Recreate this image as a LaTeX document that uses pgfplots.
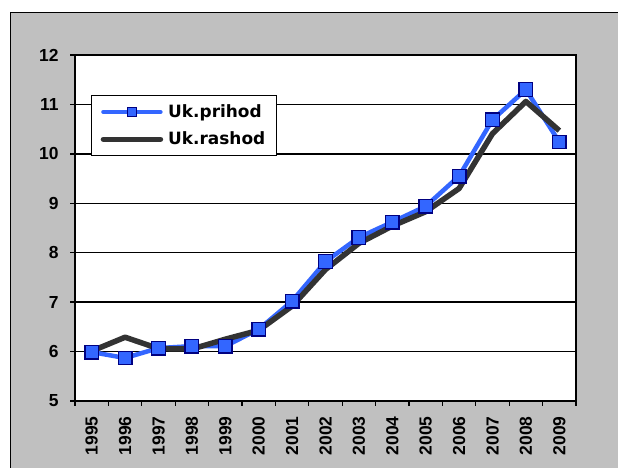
\documentclass[border=0pt]{standalone}
\usepackage{fontspec}
\setmainfont{Liberation Sans}
\newfontfamily\legfont{DejaVu Sans}
\usepackage{pgfplots}
\pgfplotsset{compat=1.18}
\definecolor{panelgray}{RGB}{192,192,192}
\definecolor{pblue}{RGB}{51,102,255}
\definecolor{mnavy}{RGB}{0,0,128}
\definecolor{rdark}{RGB}{51,51,51}
\begin{document}
\begin{tikzpicture}[x=1bp,y=1bp]
\useasboundingbox (0,0) rectangle (618,468);
\fill[white] (0,0) rectangle (618,468);
\begin{scope}
\clip (0,0) rectangle (618,468);
\filldraw[fill=panelgray, draw=black, line width=1.2bp] (10.5,-5) rectangle (625,455.5);
\end{scope}
\begin{axis}[
  at={(75bp,67bp)}, anchor=south west,
  scale only axis, width=501bp, height=346bp,
  xmin=-0.5, xmax=14.5, ymin=5, ymax=12,
  /pgf/number format/assume math mode=true,
  xtick={-0.5,0.5,...,14.5}, xticklabels={},
  extra x ticks={0,1,...,14},
  extra x tick labels={1995,1996,1997,1998,1999,2000,2001,2002,2003,2004,2005,2006,2007,2008,2009},
  extra x tick style={major tick length=0pt, grid=none},
  ytick={5,6,...,12},
  ymajorgrids, grid style={black, line width=1.3bp},
  tick align=outside, tick pos=left,
  major tick length=5bp,
  tick style={black, line width=1.3bp},
  axis background/.style={fill=white},
  axis line style={black, line width=1.6bp},
  xticklabel shift=12bp, yticklabel shift=8bp,
  x tick label style={rotate=90, anchor=east, font=\bfseries\fontsize{17.5}{17.5}\selectfont},
  y tick label style={font=\bfseries\fontsize{17.5}{17.5}\selectfont},
  legend cell align=left,
  legend style={at={(0.032,0.884)}, anchor=north west, draw=black, line width=1.3bp,
    fill=white, font=\legfont\bfseries\fontsize{17}{17}\selectfont,
    inner xsep=9bp, inner ysep=7bp, row sep=9bp,
    /tikz/every odd column/.append style={column sep=3bp}},
]
\addplot[pblue, line width=4.5bp, line join=round, forget plot] coordinates {
(0,5.99) (1,5.87) (2,6.07) (3,6.11) (4,6.11) (5,6.45) (6,7.02) (7,7.82) (8,8.31) (9,8.62) (10,8.94) (11,9.55) (12,10.69) (13,11.30) (14,10.24)};
\addplot[rdark, line width=5.5bp, line join=round, forget plot] coordinates {
(0,6.01) (1,6.29) (2,6.06) (3,6.05) (4,6.25) (5,6.43) (6,6.92) (7,7.66) (8,8.19) (9,8.54) (10,8.83) (11,9.30) (12,10.41) (13,11.06) (14,10.47)};
\addplot[only marks, mark=square*, mark size=6.8bp, mark options={fill=pblue, draw=mnavy, line width=1.3bp}, forget plot] coordinates {
(0,5.99) (1,5.87) (2,6.07) (3,6.11) (4,6.11) (5,6.45) (6,7.02) (7,7.82) (8,8.31) (9,8.62) (10,8.94) (11,9.55) (12,10.69) (13,11.30) (14,10.24)};
\addlegendimage{legend image code/.code={
  \draw[pblue, line width=4.5bp, line cap=round] (0bp,0bp) -- (57bp,0bp);
  \draw[mnavy, fill=pblue, line width=1bp] (24bp,-4.5bp) rectangle (33bp,4.5bp);}}
\addlegendentry{Uk.prihod}
\addlegendimage{legend image code/.code={
  \draw[rdark, line width=5.5bp, line cap=round] (0bp,0bp) -- (57bp,0bp);}}
\addlegendentry{Uk.rashod}
\end{axis}
\end{tikzpicture}
\end{document}
